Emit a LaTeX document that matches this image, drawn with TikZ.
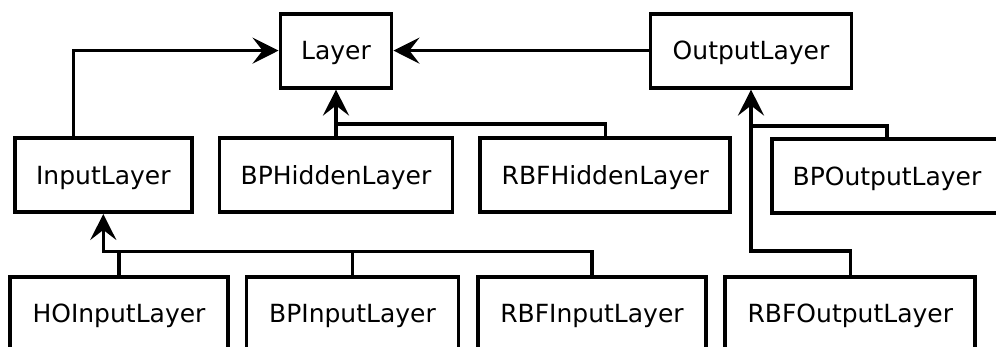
\documentclass[tikz,border=0pt]{standalone}
\usepackage{fontspec}
\newfontfamily\dejavu{DejaVu Sans}
\usetikzlibrary{arrows.meta}
\tikzset{
  box/.style={draw, line width=3.9pt, minimum height=74pt, inner sep=0pt,
    font=\dejavu\fontsize{25}{30}\selectfont, text height=18.2pt, text depth=0pt},
  conn/.style={line width=3.3pt, line join=miter},
  arr/.style={conn, arrows={-Stealth[length=26pt,width=26pt,inset=10pt]}}
}
\begin{document}
\begin{tikzpicture}[x=1pt, y=-1pt]
\useasboundingbox (0,0) rectangle (996,347);
% top row
\node[box, minimum width=111pt] (Layer) at (336,50.6) {Layer};
\node[box, minimum width=201pt] (OutputLayer) at (751,50.6) {OutputLayer};
% middle row
\node[box, minimum width=177pt] (InputLayer) at (103.3,175) {InputLayer};
\node[box, minimum width=233pt] (BPHiddenLayer) at (336,175) {BPHiddenLayer};
\node[box, minimum width=250pt] (RBFHiddenLayer) at (605.3,175) {RBFHiddenLayer};
\node[box, minimum width=230pt] (BPOutputLayer) at (887,176.3) {BPOutputLayer};
% bottom row
\node[box, minimum width=218pt] (HOInputLayer) at (119,313.7) {HOInputLayer};
\node[box, minimum width=212pt] (BPInputLayer) at (352.5,313.7) {BPInputLayer};
\node[box, minimum width=228pt] (RBFInputLayer) at (592,313.7) {RBFInputLayer};
\node[box, minimum width=250pt] (RBFOutputLayer) at (850.3,313.7) {RBFOutputLayer};
% junctions
\coordinate (hj) at (336,124);
\coordinate (oj) at (751,251);
\coordinate (oj2) at (751,126);
\coordinate (ij) at (103.3,251.3);
% connectors
\draw[arr] ([xshift=-29.6pt]InputLayer.north) |- (Layer.west);
\draw[arr] (OutputLayer.west) -- (Layer.east);
\draw[arr] (BPHiddenLayer.north) -- (Layer.south);
\draw[conn] (RBFHiddenLayer.north) |- (hj);
\draw[arr] (RBFOutputLayer.north) |- (oj) -- (OutputLayer.south);
\draw[conn] (BPOutputLayer.north) |- (oj2);
\draw[arr] (HOInputLayer.north) |- (ij) -- (InputLayer.south);
\draw[conn] (BPInputLayer.north) |- (ij);
\draw[conn] (RBFInputLayer.north) |- (ij);
\end{tikzpicture}
\end{document}
